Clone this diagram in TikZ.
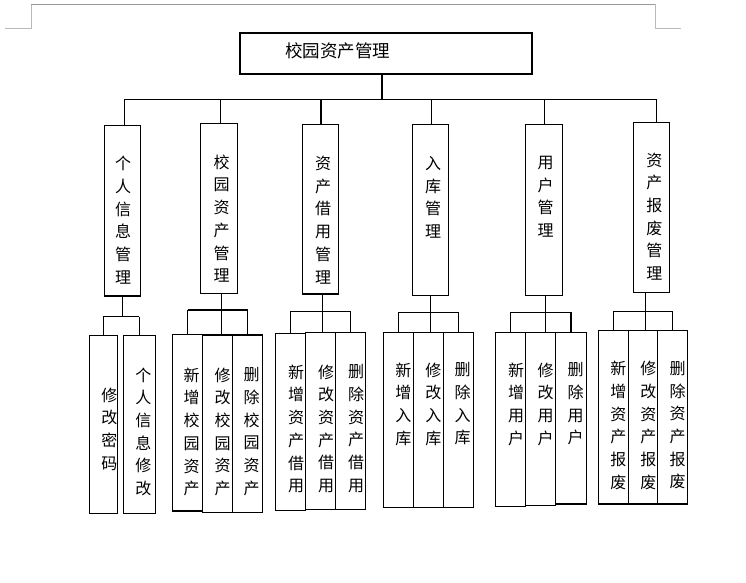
\documentclass[tikz,border=0pt]{standalone}
\usepackage{fontspec}
\setmainfont{Noto Sans CJK SC}
\usetikzlibrary{positioning,calc}

\begin{document}
\begin{tikzpicture}[x=1pt, y=-1pt,
  box/.style={draw, line width=1.2pt, inner sep=0pt},
  vtxt/.style={font=\fontsize{16}{22.7}\selectfont, align=center, inner sep=0pt, anchor=north},
  link/.style={line width=1.2pt},
  pagemark/.style={line width=0.8pt, draw=gray!55}
]
\useasboundingbox (0,0) rectangle (746,582);

% page corner marks
\draw[pagemark] (4.8,28.7) -- (31.4,28.7) -- (31.4,4.3);
\draw[pagemark] (655,4.3) -- (655,28.7) -- (681,28.7);
\draw[pagemark, draw=gray!80] (31.4,4.3) -- (655,4.3);

% root
\node[box, minimum width=292pt, minimum height=41pt] (T) at (386,53.5) {};
\node[anchor=west, inner sep=0pt, font=\fontsize{17.5}{20}\selectfont] (Tt) at (285,50.5) {校园资产管理};

% second level: name/x/y/w/h/text x/text y/text
\foreach \n/\x/\y/\w/\h/\tx/\ty/\s in {
  m1/122.3/210.7/36/170.7/123/156/个\\人\\信\\息\\管\\理,
  m2/218.8/208.3/37/170/221.6/154.5/校\\园\\资\\产\\管\\理,
  m3/320.3/209.2/36/169.7/323/156/资\\产\\借\\用\\管\\理,
  m4/430.3/209.8/36/171/433/156/入\\库\\管\\理,
  m5/543.8/209.8/37/171/545.7/156/用\\户\\管\\理,
  m6/651.3/207.3/36/170/654.3/152.5/资\\产\\报\\废\\管\\理}
{
  \node[box, minimum width=\w pt, minimum height=\h pt] (\n) at (\x,\y) {};
  \node[vtxt] (\n t) at (\tx,\ty) {\s};
}

% leaves
\foreach \n/\x/\y/\w/\h/\tx/\ty/\s in {
  L1a/103.3/424.3/28/178/109.3/387.5/修\\改\\密\\码,
  L1b/139.3/424.3/32/178/143.3/367.5/个\\人\\信\\息\\修\\改,
  L2a/187.5/422.7/30.4/176.7/191.7/367.5/新\\增\\校\\园\\资\\产,
  L2b/217.7/423.7/30/177.3/222.7/367.5/修\\改\\校\\园\\资\\产,
  L2c/247.7/423.7/30/177.3/251.7/367.5/删\\除\\校\\园\\资\\产,
  L3a/290.5/421.8/30.4/177/296/364.5/新\\增\\资\\产\\借\\用,
  L3b/320.7/420.8/30/177/326/364.5/修\\改\\资\\产\\借\\用,
  L3c/350.7/420.8/30/177/356/364.5/删\\除\\资\\产\\借\\用,
  L4a/398.3/419.8/30/175/403.3/362.5/新\\增\\入\\库,
  L4b/428.3/419.8/30/175/433.3/362.5/修\\改\\入\\库,
  L4c/458.3/419.8/30/175/462.7/362.5/删\\除\\入\\库,
  L5a/510.3/419.3/30/174/516/362.5/新\\增\\用\\户,
  L5b/540.3/418.8/30/173/545.7/362.5/修\\改\\用\\户,
  L5c/571/418.2/31.4/171.7/575.7/362.5/删\\除\\用\\户,
  L6a/613.5/417.2/30.4/173.7/618.3/361/新\\增\\资\\产\\报\\废,
  L6b/643/417.2/28.6/173.7/648.3/361/修\\改\\资\\产\\报\\废,
  L6c/672.3/417.2/30/173.7/677.7/361/删\\除\\资\\产\\报\\废}
{
  \node[box, minimum width=\w pt, minimum height=\h pt] (\n) at (\x,\y) {};
  \node[vtxt] (\n t) at (\tx,\ty) {\s};
}

% root to second level (drops sit a little off the box centres)
\draw[link] ($(T.south)+(-4,0)$) -- ++(0,24.5) coordinate (bus);
\foreach \m/\o in {m1/2.5,m2/1.7,m3/0.7,m4/1.1,m5/1,m6/4.9}
  \draw[link] ($(bus -| \m)+(\o,0)$) -- ($(\m.north)+(\o,0)$);
\draw[link] ($(bus -| m1)+(1.9,0)$) -- ($(bus -| m6)+(5.5,0)$);

% second level to leaves
\draw[link] (m1.south) -- ++(0,20) coordinate (j1);
\draw[link] (j1 -| L1a) -- (j1 -| L1b);
\foreach \c in {a,b} \draw[link] (j1 -| L1\c) -- (L1\c.north);
\foreach \g/\d/\o in {2/16/2.8,3/16.7/2,4/16.4/0,5/16.4/1.9,6/18.4/-5.6} {
  \draw[link] ($(m\g.south)+(\o,0)$) -- ++(0,\d) coordinate (j\g);
  \draw[link] (j\g -| L\g a) -- (j\g -| L\g c);
  \foreach \c in {a,c} \draw[link] (j\g -| L\g\c) -- (L\g\c.north);
  \draw[link] (j\g) -- (j\g |- L\g b.north);
}
\end{tikzpicture}
\end{document}
